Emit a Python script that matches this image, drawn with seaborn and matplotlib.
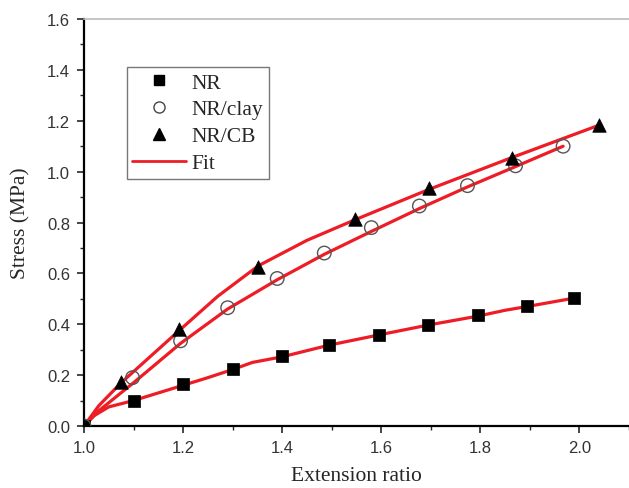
import matplotlib
matplotlib.use("Agg")
import matplotlib.pyplot as plt
import seaborn as sns
import pandas as pd
from matplotlib.ticker import MultipleLocator
from matplotlib.lines import Line2D

sns.set_style("ticks")

# Data
nr_x = [1.0, 1.1, 1.2, 1.3, 1.4, 1.495, 1.595, 1.695, 1.795, 1.895, 1.99]
nr_y = [0.0, 0.10, 0.165, 0.223, 0.275, 0.318, 0.358, 0.397, 0.436, 0.473, 0.503]

clay_x = [1.0, 1.098, 1.195, 1.29, 1.39, 1.485, 1.58, 1.677, 1.774, 1.871, 1.967]
clay_y = [0.0, 0.19, 0.335, 0.465, 0.58, 0.68, 0.78, 0.865, 0.945, 1.023, 1.10]

cb_x = [1.0, 1.075, 1.192, 1.352, 1.546, 1.696, 1.863, 2.04]
cb_y = [0.0, 0.173, 0.381, 0.625, 0.814, 0.934, 1.052, 1.183]

# Fit curves
nr_fit_x = [1.0, 1.02, 1.05, 1.1, 1.15, 1.2, 1.25, 1.3, 1.34, 1.4, 1.495, 1.595, 1.695, 1.795, 1.85, 1.895, 1.99]
nr_fit_y = [0.0, 0.04, 0.075, 0.10, 0.13, 0.16, 0.19, 0.222, 0.25, 0.272, 0.318, 0.358, 0.397, 0.432, 0.455, 0.47, 0.503]

clay_fit_x = [1.0, 1.03, 1.1, 1.195, 1.29, 1.39, 1.485, 1.58, 1.677, 1.774, 1.871, 1.967]
clay_fit_y = [0.0, 0.06, 0.17, 0.325, 0.46, 0.575, 0.675, 0.765, 0.855, 0.94, 1.02, 1.10]

cb_fit_x = [1.0, 1.03, 1.075, 1.192, 1.27, 1.352, 1.45, 1.546, 1.696, 1.863, 2.04]
cb_fit_y = [0.0, 0.08, 0.17, 0.375, 0.51, 0.63, 0.73, 0.81, 0.93, 1.055, 1.183]

RED = "#ee1c25"

fig = plt.figure(figsize=(6.29, 4.89), dpi=100)
ax = fig.add_axes([0.1335, 0.1268, 0.8665, 0.8322])

for fx, fy in [(nr_fit_x, nr_fit_y), (clay_fit_x, clay_fit_y), (cb_fit_x, cb_fit_y)]:
    sns.lineplot(x=fx, y=fy, ax=ax, color=RED, linewidth=2.3, sort=False, zorder=2)

sns.scatterplot(x=nr_x, y=nr_y, ax=ax, marker="s", s=75, color="black",
                edgecolor="black", linewidth=0.5, zorder=3)
sns.scatterplot(x=clay_x, y=clay_y, ax=ax, marker="o", s=95, facecolor="white",
                edgecolor="#555555", linewidth=1.0, zorder=3)
ax.collections[-1].set_facecolor("none")
sns.scatterplot(x=cb_x, y=cb_y, ax=ax, marker="^", s=95, color="black",
                edgecolor="black", linewidth=0.5, zorder=3)

ax.set_xlim(1.0, 2.1)
ax.set_ylim(0.0, 1.6)
ax.xaxis.set_major_locator(MultipleLocator(0.2))
ax.xaxis.set_minor_locator(MultipleLocator(0.1))
ax.yaxis.set_major_locator(MultipleLocator(0.2))
ax.yaxis.set_minor_locator(MultipleLocator(0.1))
ax.set_xticks([1.0, 1.2, 1.4, 1.6, 1.8, 2.0])
ax.tick_params(which="major", direction="out", length=5, width=1.2, labelsize=12, pad=5)
ax.tick_params(which="minor", direction="out", length=3, width=1.0)
for lab in ax.get_xticklabels() + ax.get_yticklabels():
    lab.set_family("Liberation Sans")
    lab.set_color("#333333")

ax.spines["left"].set_linewidth(1.6)
ax.spines["bottom"].set_linewidth(1.6)
ax.spines["left"].set_color("black")
ax.spines["bottom"].set_color("black")
ax.spines["top"].set_visible(True)
ax.spines["top"].set_color("#bbbbbb")
ax.spines["top"].set_linewidth(1.2)
ax.spines["right"].set_visible(False)

ax.set_xlabel("Extension ratio", family="Liberation Serif", fontsize=15.5, labelpad=8)
ax.set_ylabel("Stress (MPa)", family="Liberation Serif", fontsize=15.5, labelpad=12)

handles = [
    Line2D([], [], linestyle="none", marker="s", markersize=6.5, color="black"),
    Line2D([], [], linestyle="none", marker="o", markersize=8, markerfacecolor="none",
           markeredgecolor="#444444"),
    Line2D([], [], linestyle="none", marker="^", markersize=8.5, color="black"),
    Line2D([], [], color=RED, linewidth=2.0),
]
leg = ax.legend(handles, ["NR", "NR/clay", "NR/CB", "Fit"], loc="upper left",
                bbox_to_anchor=(0.079, 0.882), frameon=True, fancybox=False,
                prop={"family": "Liberation Serif", "size": 15.5},
                handlelength=2.5, handletextpad=0.25, borderpad=0.25,
                labelspacing=0.32, borderaxespad=0)
leg.get_frame().set_edgecolor("#555555")
leg.get_frame().set_linewidth(1.0)

fig.savefig("out.png", dpi=100)
